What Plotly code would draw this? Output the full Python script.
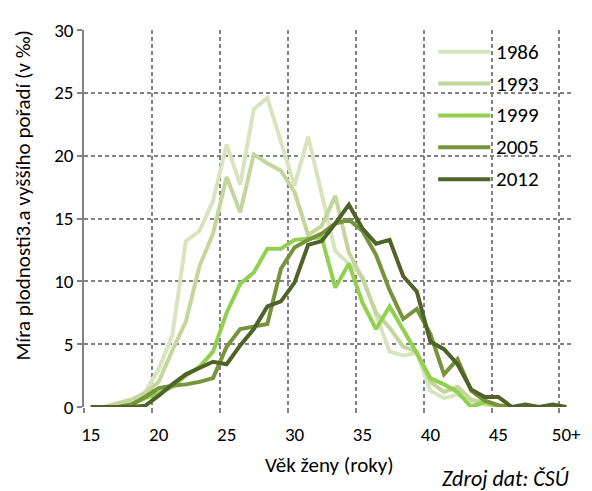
import plotly.graph_objects as go

# ---- data ----
ages = ["15", "16", "17", "18", "19", "20", "21", "22", "23", "24",
        "25", "26", "27", "28", "29", "30", "31", "32", "33", "34",
        "35", "36", "37", "38", "39", "40", "41", "42", "43", "44",
        "45", "46", "47", "48", "49", "50+"]
tick_labels = ["15", "20", "25", "30", "35", "40", "45", "50+"]

years = ["1986", "1993", "1999", "2005", "2012"]

v1986 = [0, 0, 0.2, 0.5, 1.2, 3.0, 5.7, 13.2, 14.0, 16.4, 20.9, 17.7, 23.7, 24.6, 21.1, 17.6,
         21.5, 17.0, 12.4, 11.4, 10.4, 7.3, 4.4, 4.1, 4.3, 1.3, 0.7, 1.0, 0.4, 0.2, 0.1, 0, 0, 0, 0, 0]
v1993 = [0, 0, 0.3, 0.6, 1.1, 2.0, 4.5, 6.8, 11.2, 13.8, 18.3, 15.5, 20.1, 19.4, 18.8, 17.1,
         13.7, 14.4, 16.8, 12.3, 10.2, 7.5, 6.3, 4.8, 4.4, 2.0, 1.2, 1.6, 0.6, 0.3, 0.1, 0, 0, 0, 0, 0]
v1999 = [0, 0, 0, 0.2, 0.7, 1.1, 1.6, 2.5, 3.2, 4.4, 7.5, 9.8, 10.7, 12.6, 12.6, 13.3,
         13.4, 13.5, 9.5, 11.4, 8.3, 6.2, 8.0, 6.2, 4.3, 2.3, 1.8, 1.2, 0, 0.4, 0, 0, 0, 0, 0, 0]
v2005 = [0, 0, 0, 0.2, 0.8, 1.5, 1.7, 1.8, 2.0, 2.3, 4.8, 6.2, 6.4, 6.6, 11.0, 12.7,
         13.3, 13.8, 14.6, 14.9, 14.0, 12.1, 9.3, 7.0, 7.8, 5.8, 2.6, 3.8, 1.3, 0.5, 0.15, 0, 0, 0, 0, 0]
v2012 = [0, 0, 0, 0, 0.1, 0.9, 1.8, 2.6, 3.1, 3.6, 3.4, 4.9, 6.2, 8.0, 8.4, 9.9,
         12.9, 13.2, 14.6, 16.1, 14.2, 13.0, 13.3, 10.4, 9.2, 5.2, 4.6, 3.4, 1.4, 0.8, 0.8, 0, 0.2, 0, 0.2, 0]

series = [v1986, v1993, v1999, v2005, v2012]
colors = ["#d7e4bd", "#c3d69b", "#92d050", "#77933c", "#4f6228"]

FONT = "Calibri, Carlito, Lato, sans-serif"
GRID = "#828282"

x_idx = list(range(len(ages)))

fig = go.Figure()
for name, vals, col in zip(years, series, colors):
    fig.add_trace(go.Scatter(x=x_idx, y=vals, mode="lines", name=name,
                             line=dict(color=col, width=4), showlegend=False))

# The page body has an 8px default margin, so the figure is built 8px smaller
# and all reference pixel positions are shifted accordingly.
OFF = 8
W, H = 592 - OFF, 491 - OFF
PL, PR, PT, PB = 84, 581, 20, 407          # plot area in reference pixels
L, T = PL - OFF, PT - OFF
R, B = W - (PR - OFF), H - (PB - OFF)
pw, ph = PR - PL, PB - PT

def px(xp):
    return (xp - PL) / pw

def py(yp):
    return (PB - yp) / ph

# custom legend
for k, (name, col) in enumerate(zip(years, colors)):
    yy = py(42.3 + 32.7 * k)
    fig.add_shape(type="line", xref="paper", yref="paper",
                  x0=px(444), x1=px(497), y0=yy, y1=yy,
                  line=dict(color=col, width=4))
    fig.add_annotation(xref="paper", yref="paper", x=px(501), y=yy,
                       text=name, showarrow=False, xanchor="left", yanchor="middle",
                       font=dict(family=FONT, size=21, color="#000000"))

# axis titles and source
fig.add_annotation(xref="paper", yref="paper", x=px(22), y=py(190),
                   text="Míra plodnosti3.a vyššího pořadí (v ‰)", textangle=-90,
                   showarrow=False, xanchor="center", yanchor="middle",
                   font=dict(family=FONT, size=21, color="#000000"))
fig.add_annotation(xref="paper", yref="paper", x=px(334), y=py(467),
                   text="Věk ženy (roky)", showarrow=False,
                   xanchor="center", yanchor="middle",
                   font=dict(family=FONT, size=21, color="#000000"))
fig.add_annotation(xref="paper", yref="paper", x=px(512), y=py(480),
                   text="<i>Zdroj dat: ČSÚ</i>", showarrow=False,
                   xanchor="center", yanchor="middle",
                   font=dict(family=FONT, size=22, color="#000000"))

fig.update_layout(
    width=W, height=H,
    margin=dict(l=L, r=R, t=T, b=B, pad=0),
    paper_bgcolor="white", plot_bgcolor="white",
    font=dict(family=FONT, size=19, color="#000000"),
    xaxis=dict(
        range=[-0.5, len(ages) - 0.5],
        tickmode="array",
        tickvals=[ages.index(t) for t in tick_labels],
        ticktext=tick_labels,
        ticks="", showgrid=False, zeroline=False, showline=False,
        tickfont=dict(family=FONT, size=19),
        ticklabelstandoff=14,
        minor=dict(tickmode="array",
                   tickvals=[ages.index(t) - 0.5 for t in tick_labels],
                   ticks="outside", ticklen=5, tickwidth=1.5, tickcolor=GRID,
                   showgrid=True, gridcolor=GRID, gridwidth=1.5, griddash="4px,3px"),
    ),
    yaxis=dict(
        range=[0, 30], tickmode="linear", tick0=0, dtick=5,
        showgrid=True, gridcolor=GRID, gridwidth=1.5, griddash="4px,3px",
        zeroline=False, showline=True, linecolor=GRID, linewidth=1.5,
        ticks="outside", ticklen=5, tickwidth=1.5, tickcolor=GRID,
        tickfont=dict(family=FONT, size=19),
        ticklabelstandoff=0,
    ),
)

fig.write_html("out.html")
